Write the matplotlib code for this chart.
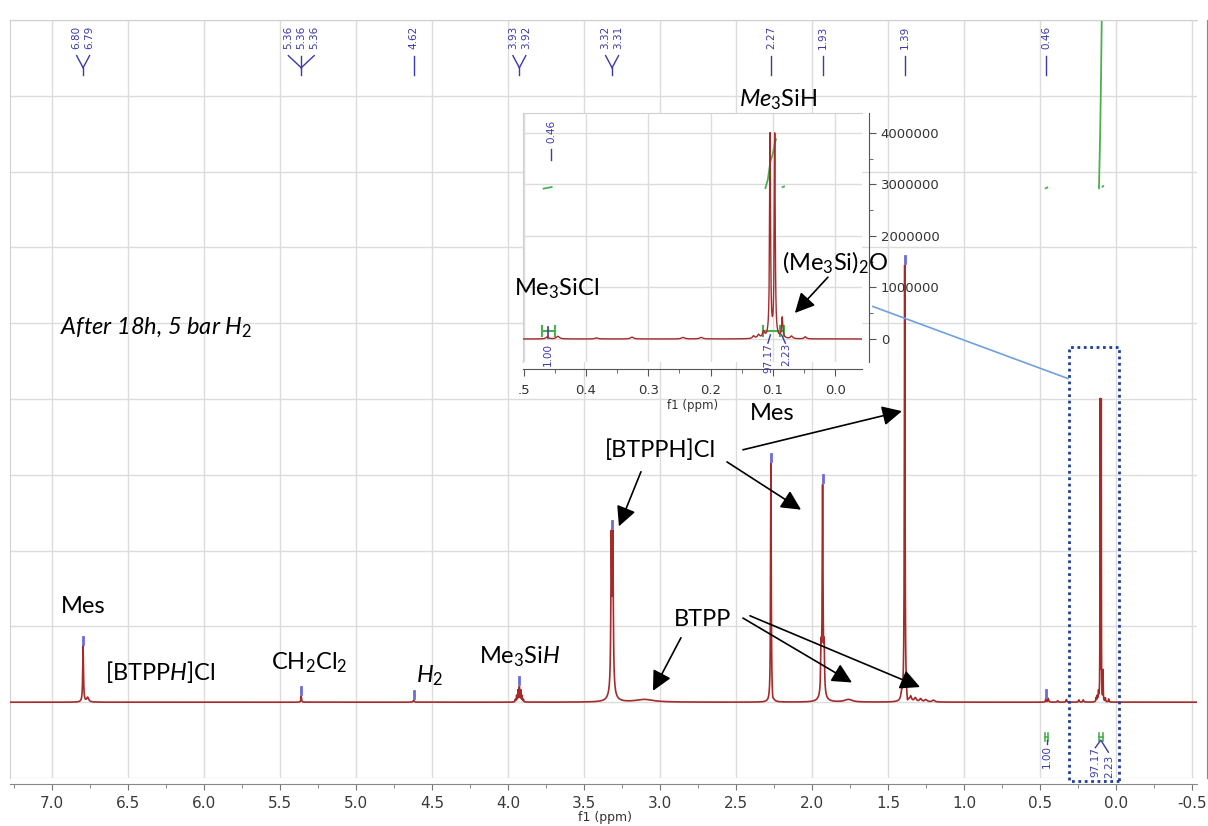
import numpy as np
import matplotlib.pyplot as plt
from matplotlib.patches import Rectangle
from matplotlib.ticker import MultipleLocator, FuncFormatter
from matplotlib.transforms import blended_transform_factory

plt.rcParams['font.family'] = 'DejaVu Sans'
plt.rcParams['mathtext.fontset'] = 'custom'
plt.rcParams['mathtext.rm'] = 'Lato'
plt.rcParams['mathtext.it'] = 'Lato:italic'
plt.rcParams['mathtext.bf'] = 'Lato:bold'

# peak table: shift (ppm), height (x 1e6), half width (ppm)
peak_shift = [6.795, 6.765, 5.360, 4.620,
              3.952, 3.943, 3.934, 3.925, 3.916, 3.907, 3.898,
              3.320, 3.310, 3.315, 3.10,
              2.270, 2.258, 1.940, 1.930, 1.920, 1.930, 1.76,
              1.410, 1.390, 1.372, 1.350, 1.320, 1.285, 1.250, 1.200,
              0.462, 0.445, 0.383, 0.326, 0.244, 0.215, 0.131, 0.123, 0.115,
              0.1045, 0.0970, 0.085, 0.070, 0.048]
peak_height = [0.74, 0.06, 0.08, 0.025,
               0.03, 0.08, 0.15, 0.19, 0.15, 0.08, 0.03,
               1.94, 1.94, 0.12, 0.035,
               3.16, -0.06, 0.55, 2.70, 0.55, 0.08, 0.035,
               0.08, 5.76, -0.08, 0.06, 0.05, 0.04, 0.03, 0.025,
               0.04, 0.05, 0.02, 0.035, 0.03, 0.03, 0.05, 0.07, 0.12,
               3.95, 3.95, 0.40, 0.05, 0.04]
peak_width = [0.003, 0.008, 0.0025, 0.004,
              0.002, 0.002, 0.002, 0.002, 0.002, 0.002, 0.002,
              0.0035, 0.0035, 0.02, 0.07,
              0.0025, 0.003, 0.003, 0.003, 0.003, 0.02, 0.03,
              0.006, 0.0025, 0.004, 0.006, 0.008, 0.008, 0.01, 0.01,
              0.0025, 0.003, 0.003, 0.003, 0.003, 0.003, 0.002, 0.002, 0.002,
              0.0009, 0.0009, 0.0012, 0.002, 0.002]

# picked peaks (blue labels at the top)
label_shift = [6.795, 5.36, 4.62, 3.925, 3.315, 2.27, 1.93, 1.39, 0.46]
label_text = [['6.80', '6.79'], ['5.36', '5.36', '5.36'], ['4.62'], ['3.93', '3.92'],
              ['3.32', '3.31'], ['2.27'], ['1.93'], ['1.39'], ['0.46']]

# integrals
integral_shift = [0.456, 0.10]
integral_text = [['1.00'], ['97.17', '2.23']]


def spectrum(x):
    y = np.zeros_like(x)
    for s, h, w in zip(peak_shift, peak_height, peak_width):
        y += h / (1 + ((x - s) / w) ** 2)
    return y


ppm = np.linspace(-0.6, 7.35, 90000)
inten = spectrum(ppm)

W, H = 1208, 826
red = '#a52a2a'
blue = '#3a3aa8'
green = '#4caf50'
grid_c = '#dcdcdc'

fig = plt.figure(figsize=(12.08, 8.26), dpi=100)

#---------------------main spectrum---------------------
ax = fig.add_axes([10 / W, 1 - 778 / H, 1187 / W, 758 / H])
ax.plot(ppm, inten, color=red, lw=1.2, zorder=3)
ax.set_xlim(7.276, -0.533)
ax.set_ylim(-1, 9)
ax.xaxis.set_major_locator(MultipleLocator(0.5))
ax.xaxis.set_minor_locator(MultipleLocator(0.25))
ax.yaxis.set_major_locator(MultipleLocator(1))
ax.yaxis.set_minor_locator(MultipleLocator(0.5))
ax.xaxis.set_major_formatter(FuncFormatter(lambda v, _: f'{v + 0:.1f}'))
ax.grid(True, which='major', color=grid_c, lw=1)
ax.set_axisbelow(True)
ax.yaxis.tick_right()
ax.tick_params(axis='x', which='both', direction='out', color='#777777',
               labelsize=11, labelcolor='#3a3a3a', pad=5)
ax.tick_params(axis='x', which='major', length=4)
ax.tick_params(axis='x', which='minor', length=3)
ax.tick_params(axis='y', which='both', direction='out', color='#777777',
               labelright=False, length=3)
ax.spines['bottom'].set_position(('outward', 4))
ax.spines['right'].set_position(('outward', 7))
for side in ['bottom', 'right']:
    ax.spines[side].set_color('#888888')
for side in ['top', 'left']:
    ax.spines[side].set_color('#d0d0d0')
fig.text(605 / W, 1 - 817 / H, 'f1 (ppm)', ha='center', va='center',
         fontsize=9, color='#333333')

# picked-peak labels at the top
trans = blended_transform_factory(ax.transData, ax.transAxes)
dx = 0.085
for s, texts in zip(label_shift, label_text):
    n = len(texts)
    xs = [s + ((n - 1) / 2 - i) * dx for i in range(n)]
    for x, t in zip(xs, texts):
        ax.text(x, 0.992, t, rotation=90, ha='center', va='top', fontsize=7.5,
                color=blue, transform=trans)
        if n > 1:
            ax.plot([x, s], [0.953, 0.937], color=blue, lw=1, transform=trans)
    ax.plot([s, s], [0.953 if n == 1 else 0.937, 0.927], color=blue, lw=1,
            transform=trans)
    sel = np.abs(ppm - s) < 0.012
    top = inten[sel].max()
    ax.plot([s, s], [top + 0.03, top + 0.12], color='#6b6bd6', lw=2, zorder=4)

# integrals under the baseline
for s, texts in zip(integral_shift, integral_text):
    ax.plot([s + 0.012, s - 0.012], [-0.455, -0.455], color=green, lw=1.2)
    for e in [s + 0.012, s - 0.012]:
        ax.plot([e, e], [-0.40, -0.51], color=green, lw=1.2)
    if len(texts) == 1:
        ax.plot([s, s], [-0.50, -0.55], color=blue, lw=1)
        ax.text(s, -0.56, texts[0], rotation=90, ha='center', va='top',
                fontsize=7.5, color=blue)
    else:
        ax.text(s + 0.038, -0.59, texts[0], rotation=90, ha='center', va='top',
                fontsize=7.5, color=blue)
        ax.text(s - 0.054, -0.69, texts[1], rotation=90, ha='center', va='top',
                fontsize=7.5, color=blue)
        ax.plot([s + 0.036, s, s - 0.05], [-0.60, -0.50, -0.66], color=blue, lw=1)

# integral curves (main scale)
ax.plot([0.462, 0.452], [6.78, 6.79], color=green, lw=1.3)
ax.plot([0.112, 0.104, 0.098, 0.092], [6.78, 7.5, 8.3, 9.3], color=green, lw=1.3)
ax.plot([0.088, 0.084], [6.80, 6.81], color=green, lw=1.3)

# zoom box and link to the inset
ax.add_patch(Rectangle((-0.02, -1.04), 0.329, 5.73, fill=False,
                       ls=(0, (1, 1.3)), lw=2, ec='#1f3f9f', clip_on=False, zorder=5))
ax.plot([1.599, 0.316], [5.22, 4.27], color='#6fa0e0', lw=1.2, zorder=5)

# text labels
lab = dict(fontsize=17, color='black', ha='center', va='center')
ax.text(6.947, 4.94, 'After 18h, 5 bar $\\mathit{H}_\\mathit{2}$', fontsize=17,
        style='italic', family='Lato', ha='left', va='center')
ax.text(6.796, 1.26, 'Mes', family='Lato', **lab)
ax.text(6.289, 0.40, '[BTPP$\\mathit{H}$]Cl', family='Lato', **lab)
ax.text(5.309, 0.52, 'CH$_2$Cl$_2$', family='Lato', **lab)
ax.text(4.513, 0.35, '$\\mathit{H}_\\mathit{2}$', family='Lato', **lab)
ax.text(3.921, 0.60, 'Me$_3$Si$\\mathit{H}$', family='Lato', **lab)
ax.text(3.00, 3.32, '[BTPPH]Cl', family='Lato', **lab)
ax.text(2.263, 3.81, 'Mes', family='Lato', **lab)
ax.text(2.717, 1.09, 'BTPP', family='Lato', **lab)

arrow = dict(arrowstyle='-|>,head_length=0.6,head_width=0.3', color='black',
             lw=1.2, mutation_scale=20, shrinkA=0, shrinkB=0)
arrows = [((2.454, 3.33), (1.408, 3.84)),
          ((2.559, 3.17), (2.072, 2.54)),
          ((3.125, 3.04), (3.27, 2.32)),
          ((2.862, 0.85), (3.046, 0.15)),
          ((2.454, 1.11), (1.737, 0.26)),
          ((2.408, 1.14), (1.289, 0.20))]
for start, tip in arrows:
    ax.annotate('', xy=tip, xytext=start, arrowprops=arrow)

#---------------------inset---------------------
ax2 = fig.add_axes([523 / W, 1 - 362 / H, 339 / W, 249 / H])
m = (ppm <= 0.55) & (ppm >= -0.08)
ax2.plot(ppm[m], inten[m], color=red, lw=1.0, zorder=3)
ax2.set_xlim(0.501, -0.043)
ax2.set_ylim(-0.447, 4.388)
ax2.xaxis.set_major_locator(MultipleLocator(0.1))
ax2.xaxis.set_minor_locator(MultipleLocator(0.05))
ax2.yaxis.set_major_locator(MultipleLocator(1))
ax2.yaxis.set_minor_locator(MultipleLocator(0.5))
ax2.xaxis.set_major_formatter(FuncFormatter(
    lambda v, _: '.5' if abs(v - 0.5) < 1e-6 else f'{v + 0:.1f}'))
ax2.yaxis.set_major_formatter(FuncFormatter(lambda v, _: f'{v * 1e6:.0f}'))
ax2.yaxis.tick_right()
ax2.grid(True, which='major', color=grid_c, lw=1)
ax2.set_axisbelow(True)
ax2.tick_params(axis='both', which='both', direction='out', color='#555555',
                labelsize=9.5, labelcolor='#333333')
ax2.tick_params(axis='both', which='major', length=5)
ax2.tick_params(axis='both', which='minor', length=3)
ax2.tick_params(axis='x', pad=6)
ax2.spines['bottom'].set_position(('outward', 5))
ax2.spines['right'].set_position(('outward', 5))
for side in ['bottom', 'right']:
    ax2.spines[side].set_color('#555555')
for side in ['top', 'left']:
    ax2.spines[side].set_color('#d0d0d0')
fig.text(693 / W, 1 - 405 / H, 'f1 (ppm)', ha='center', va='center',
         fontsize=8.5, color='#333333')

ax2.text(0.456, 4.25, '0.46', rotation=90, ha='center', va='top', fontsize=7.5,
         color=blue)
ax2.plot([0.456, 0.456], [3.68, 3.48], color=blue, lw=1)

# integrals (inset scale)
ax2.plot([0.468, 0.455], [2.92, 2.95], color=green, lw=1.3)
ax2.plot([0.112, 0.108, 0.104, 0.100, 0.097, 0.095],
         [2.93, 3.10, 3.45, 3.60, 3.80, 3.88], color=green, lw=1.3)
ax2.plot([0.0845, 0.082], [2.95, 2.96], color=green, lw=1.3)
for a, b in [(0.471, 0.450), (0.116, 0.082)]:
    ax2.plot([a, b], [0.15, 0.15], color=green, lw=1.5)
    for e in [a, b]:
        ax2.plot([e, e], [0.05, 0.25], color=green, lw=1.5)
ax2.plot([0.089, 0.089], [0.05, 0.25], color=green, lw=1.5)
ax2.plot([0.461, 0.461], [0.02, 0.23], color=blue, lw=1.2)
ax2.plot([0.104, 0.108], [0.08, -0.08], color=blue, lw=1)
ax2.plot([0.086, 0.080], [0.08, -0.08], color=blue, lw=1)
for s, t in zip([0.461, 0.108, 0.079], ['1.00', '97.17', '2.23']):
    ax2.text(s, -0.08, t, rotation=90, ha='center', va='top', fontsize=7.5,
             color=blue, clip_on=False)

ax2.text(0.448, 0.97, 'Me$_3$SiCl', family='Lato', **lab)
ax2.text(0.092, 4.64, '$\\mathit{Me}_3$SiH', family='Lato', **lab)
ax2.text(0.0005, 1.48, '(Me$_3$Si)$_2$O', family='Lato', **lab)
ax2.annotate('', xy=(0.0647, 0.505), xytext=(0.0117, 1.2), arrowprops=arrow)

fig.savefig('out.png', dpi=100)
